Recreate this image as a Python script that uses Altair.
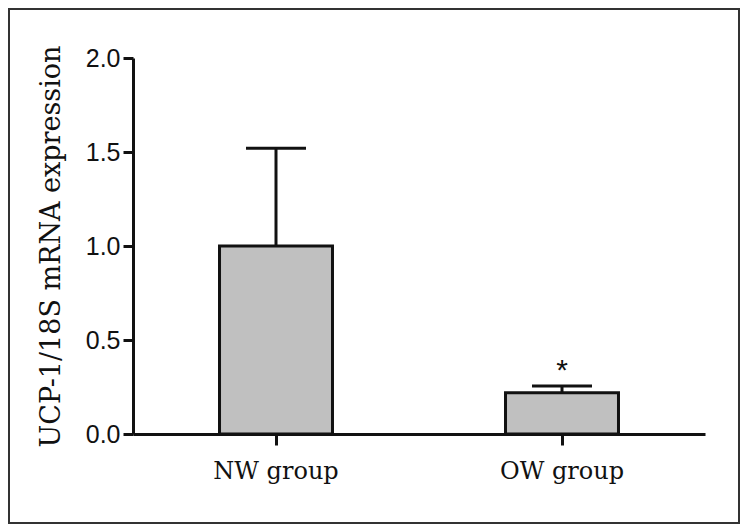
import altair as alt
import pandas as pd

groups = ["NW group", "OW group"]
means = [1.0, 0.22]
errors = [0.52, 0.035]
stars_txt = ["", "*"]

df = pd.DataFrame({"group": groups, "mean": means, "err": errors, "star": stars_txt})
df["upper"] = df["mean"] + df["err"]

W, H = 572, 376
PL, PT, PR, PB = 125, 50, 35, 90
INK = "#111111"

xscale = alt.Scale(domain=groups, paddingInner=0.605, paddingOuter=0.3025)
xaxis = alt.Axis(title=None, labelAngle=0, labelFont="DejaVu Serif", labelFontSize=24,
                 labelColor=INK, labelPadding=14, tickSize=11, tickWidth=3, tickColor=INK,
                 domainWidth=3, domainColor=INK, grid=False, zindex=1)
yscale = alt.Scale(domain=[0, 2], nice=False)
yaxis = alt.Axis(values=[0, 0.5, 1, 1.5, 2], format=".1f", title="UCP-1/18S mRNA expression",
                 titleFont="DejaVu Serif", titleFontSize=27, titleFontWeight="normal",
                 titleColor=INK, titlePadding=20, labelFont="Liberation Sans", labelFontSize=25,
                 labelColor=INK, labelPadding=3, tickSize=10, tickWidth=3, tickColor=INK,
                 domainWidth=3, domainColor=INK, grid=False, zindex=1)

base = alt.Chart(df)

errline = base.mark_rule(color=INK, strokeWidth=3, opacity=1).encode(
    x=alt.X("group:N", scale=xscale, axis=xaxis),
    y=alt.Y("mean:Q", scale=yscale, axis=yaxis),
    y2="upper:Q")
caps = base.mark_tick(color=INK, thickness=3, size=60, orient="horizontal", opacity=1).encode(
    x=alt.X("group:N"), y=alt.Y("upper:Q"))
bars = base.mark_bar(fill="#c0c0c0", stroke=INK, strokeWidth=3, opacity=1).encode(
    x=alt.X("group:N"), y=alt.Y("mean:Q"))
stars = base.mark_text(font="Liberation Sans", fontSize=30, baseline="bottom", dy=0,
                       color=INK).encode(
    x=alt.X("group:N"), y=alt.Y("upper:Q"), text="star:N")
frame = alt.Chart(pd.DataFrame({"a": [0]})).mark_rect(filled=False, stroke="#333333",
                                                      strokeWidth=2).encode(
    x=alt.value(-PL + 1), x2=alt.value(W + PR - 1),
    y=alt.value(-PT + 1), y2=alt.value(H + PB - 1))

chart = alt.layer(errline, caps, bars, stars, frame).properties(
    width=W, height=H, autosize="none",
    padding={"left": PL, "top": PT, "right": PR, "bottom": PB},
    background="white"
).configure_view(stroke="transparent")

chart.save("out.html", embed_options={"renderer": "svg", "actions": False})
